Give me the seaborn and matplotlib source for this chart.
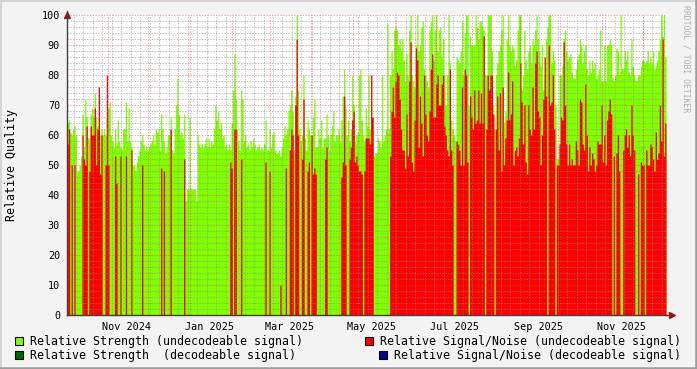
import numpy as np
import pandas as pd
import matplotlib
matplotlib.use("Agg")
import matplotlib.pyplot as plt
import matplotlib.dates as mdates
from matplotlib.patches import Rectangle
from matplotlib.lines import Line2D
import seaborn as sns

# ---------------- data ----------------
start_date = "2024-10-02"

strength_undecodeable = [
    64, 65, 61, 60, 62, 63, 60, 48, 48, 50,
    53, 67, 56, 72, 66, 59, 59, 67, 69, 66,
    74, 66, 63, 66, 60, 62, 60, 62, 60, 66,
    69, 71, 60, 58, 56, 62, 57, 65, 58, 56,
    55, 62, 62, 71, 58, 69, 58, 56, 50, 50,
    48, 51, 53, 55, 58, 60, 57, 55, 56, 55,
    56, 57, 58, 60, 57, 62, 61, 62, 55, 67,
    62, 58, 54, 56, 60, 60, 66, 55, 54, 62,
    70, 79, 67, 60, 61, 59, 67, 38, 42, 42,
    66, 42, 42, 42, 42, 38, 60, 57, 56, 57,
    56, 57, 59, 56, 59, 56, 58, 57, 62, 70,
    65, 68, 62, 64, 59, 60, 56, 57, 55, 57,
    55, 64, 75, 87, 72, 62, 58, 55, 75, 72,
    58, 60, 56, 57, 55, 58, 56, 59, 57, 55,
    56, 57, 55, 56, 55, 57, 65, 55, 55, 62,
    56, 60, 61, 55, 54, 54, 55, 53, 56, 59,
    63, 60, 62, 68, 70, 75, 68, 55, 73, 100,
    75, 62, 58, 60, 80, 59, 55, 65, 62, 60,
    60, 66, 72, 56, 56, 62, 59, 65, 56, 59,
    59, 67, 60, 55, 60, 63, 68, 58, 60, 60,
    62, 58, 65, 73, 82, 69, 60, 65, 58, 62,
    80, 70, 58, 60, 61, 80, 82, 65, 60, 58,
    69, 63, 80, 62, 57, 57, 53, 54, 54, 59,
    58, 56, 80, 58, 60, 62, 97, 62, 80, 88,
    82, 95, 96, 95, 90, 92, 88, 92, 85, 78,
    87, 80, 95, 100, 80, 78, 76, 90, 100, 88,
    90, 96, 98, 82, 80, 78, 76, 95, 98, 100,
    85, 95, 100, 88, 95, 96, 86, 92, 80, 70,
    80, 100, 84, 65, 62, 60, 58, 86, 85, 84,
    88, 98, 80, 94, 100, 100, 70, 93, 90, 90,
    90, 100, 96, 92, 98, 98, 96, 95, 80, 80,
    100, 100, 100, 88, 70, 62, 80, 84, 88, 90,
    95, 100, 64, 68, 92, 100, 90, 88, 90, 89,
    83, 85, 95, 100, 100, 75, 80, 95, 85, 82,
    88, 90, 84, 92, 90, 95, 100, 92, 88, 83,
    90, 75, 80, 92, 96, 100, 100, 84, 88, 85,
    70, 52, 52, 80, 80, 83, 92, 95, 88, 85,
    86, 87, 81, 79, 79, 82, 85, 87, 92, 90,
    84, 88, 90, 82, 80, 85, 81, 85, 82, 84,
    79, 80, 82, 95, 78, 78, 90, 78, 90, 90,
    92, 90, 79, 78, 80, 89, 88, 80, 100, 82,
    82, 88, 85, 88, 81, 80, 92, 83, 80, 78,
    78, 80, 80, 83, 85, 85, 84, 85, 88, 84,
    86, 84, 88, 82, 83, 85, 88, 92, 100, 93,
    100, 86,
]

snr_undecodeable = [
    57, 62, 0, 50, 0, 50, 0, 0, 0, 0,
    0, 60, 52, 50, 63, 0, 48, 63, 60, 60,
    69, 50, 62, 76, 47, 60, 0, 0, 50, 80,
    50, 0, 0, 0, 0, 53, 44, 0, 0, 53,
    0, 0, 0, 53, 0, 0, 0, 55, 0, 0,
    0, 0, 0, 0, 0, 50, 0, 0, 0, 0,
    0, 0, 0, 0, 0, 0, 0, 0, 0, 49,
    0, 48, 0, 0, 0, 0, 62, 0, 0, 0,
    0, 0, 0, 0, 0, 0, 52, 0, 0, 0,
    0, 0, 0, 0, 0, 0, 0, 0, 0, 0,
    0, 0, 0, 0, 0, 0, 0, 0, 0, 0,
    0, 0, 0, 0, 0, 0, 0, 0, 0, 0,
    51, 49, 0, 62, 62, 0, 0, 0, 52, 0,
    0, 0, 0, 0, 0, 0, 0, 0, 0, 0,
    0, 0, 0, 0, 0, 0, 51, 0, 0, 48,
    0, 0, 0, 0, 0, 0, 0, 10, 0, 0,
    0, 49, 0, 0, 55, 62, 60, 0, 70, 92,
    60, 0, 0, 52, 72, 0, 0, 48, 51, 0,
    60, 47, 49, 47, 0, 0, 0, 0, 0, 0,
    52, 56, 0, 0, 0, 0, 0, 0, 0, 0,
    0, 0, 46, 51, 73, 50, 0, 0, 52, 56,
    65, 68, 51, 53, 50, 48, 48, 47, 0, 48,
    59, 59, 59, 57, 80, 66, 0, 0, 0, 0,
    0, 0, 0, 0, 0, 0, 0, 0, 53, 68,
    76, 66, 78, 81, 80, 72, 62, 55, 55, 49,
    67, 53, 78, 91, 51, 48, 65, 89, 85, 56,
    73, 64, 53, 80, 67, 60, 58, 68, 82, 87,
    66, 66, 77, 80, 70, 70, 77, 80, 63, 60,
    55, 53, 82, 55, 50, 0, 0, 58, 57, 55,
    50, 76, 50, 82, 80, 51, 0, 73, 66, 62,
    75, 64, 65, 75, 64, 74, 64, 93, 0, 62,
    80, 75, 80, 80, 67, 0, 62, 73, 55, 74,
    48, 76, 50, 59, 65, 81, 65, 67, 78, 50,
    55, 56, 53, 59, 84, 71, 57, 70, 51, 47,
    70, 62, 60, 76, 62, 84, 88, 68, 66, 50,
    60, 72, 86, 73, 0, 90, 70, 71, 80, 62,
    0, 50, 50, 57, 66, 65, 91, 70, 57, 50,
    57, 50, 52, 50, 50, 58, 55, 50, 72, 71,
    57, 55, 77, 60, 48, 56, 50, 54, 52, 48,
    50, 58, 57, 57, 70, 51, 60, 50, 65, 68,
    72, 67, 0, 53, 0, 54, 60, 48, 0, 0,
    55, 60, 62, 56, 60, 53, 70, 60, 55, 0,
    0, 47, 0, 51, 50, 50, 0, 55, 50, 50,
    57, 56, 52, 48, 61, 52, 54, 70, 58, 92,
    53, 64,
]

tick_labels = ["Nov 2024", "Jan 2025", "Mar 2025", "May 2025",
               "Jul 2025", "Sep 2025", "Nov 2025"]
tick_label_dates = ["2024-11-15", "2025-01-15", "2025-03-15", "2025-05-15",
                    "2025-07-15", "2025-09-15", "2025-11-15"]
y_ticks = [0, 10, 20, 30, 40, 50, 60, 70, 80, 90, 100]
y_label = "Relative Quality"
legend_labels = ["Relative Strength (undecodeable signal)",
                 "Relative Strength  (decodeable signal)",
                 "Relative Signal/Noise (undecodeable signal)",
                 "Relative Signal/Noise (decodeable signal)"]
watermark = "RRDTOOL / TOBI OETIKER"

# ---------------- styling ----------------
C_STRENGTH = "#80FF00"
C_STRENGTH_DEC = "#006600"
C_SNR = "#FF0000"
C_SNR_DEC = "#000099"
BACK = "#F3F3F3"
GRID = (0.55, 0.55, 0.55, 0.55)
MGRID = (0.90, 0.25, 0.25, 0.45)
AXIS = "#404040"
ARROW = "#8B1A1A"

sns.set_style("white")
plt.rcParams["font.family"] = ["DejaVu Sans Mono", "DejaVu Sans"]

W, H = 697, 369
fig = plt.figure(figsize=(W / 100, H / 100), dpi=100, facecolor=BACK)
ax = fig.add_axes([67 / W, 1 - 315 / H, 599 / W, 300 / H])
ax.set_facecolor("white")

n = len(strength_undecodeable)
days = pd.date_range(start_date, periods=n, freq="D")
left_edges = mdates.date2num(days)
x_min, x_max = float(left_edges[0]), float(left_edges[-1] + 1)
df = pd.DataFrame({
    "t": left_edges + 0.5,
    "strength": np.array(strength_undecodeable, dtype=float),
    "snr": np.array(snr_undecodeable, dtype=float),
})

sns.histplot(data=df, x="t", weights="strength", binwidth=1,
             binrange=(x_min, x_max), element="step", fill=True,
             color=C_STRENGTH, alpha=1, linewidth=0, ax=ax, zorder=2)
sns.histplot(data=df, x="t", weights="snr", binwidth=1,
             binrange=(x_min, x_max), element="step", fill=True,
             color=C_SNR, alpha=1, linewidth=0, ax=ax, zorder=3)

ax.set_xlim(x_min, x_max)
ax.set_ylim(0, 100)
ax.set_xlabel("")
ax.set_ylabel("")

dot = (0, (1.4, 1.4))
# horizontal grid
for v in range(2, 100, 2):
    if v % 10:
        ax.axhline(v, color=GRID, lw=0.72, ls=dot, zorder=5)
for v in y_ticks[1:]:
    ax.axhline(v, color=MGRID, lw=0.72, ls=dot, zorder=6)
# vertical grid: weekly (Mondays) and monthly
mondays = pd.date_range(days[0], days[-1] + pd.Timedelta(days=1), freq="W-MON")
for d in mondays:
    ax.axvline(mdates.date2num(d), color=GRID, lw=0.72, ls=dot, zorder=5)
months = pd.date_range(days[0], days[-1] + pd.Timedelta(days=1), freq="MS")
month_pos = mdates.date2num(months)
for m in month_pos:
    ax.axvline(m, color=MGRID, lw=0.72, ls=dot, zorder=6)

# ticks
ax.set_yticks(y_ticks)
ax.set_yticklabels([str(v) for v in y_ticks])
ax.set_yticks([v for v in range(0, 101, 2) if v % 10], minor=True)
ax.tick_params(axis="y", which="major", direction="inout", length=4, width=0.7,
               color=AXIS, pad=3, labelsize=7.3, labelcolor="black")
ax.tick_params(axis="y", which="minor", direction="inout", length=2, width=0.6,
               color=GRID)
ax.set_xticks(month_pos)
ax.set_xticklabels([""] * len(month_pos))
ax.set_xticks(mdates.date2num(pd.to_datetime(tick_label_dates)), minor=True)
ax.set_xticklabels(tick_labels, minor=True)
ax.tick_params(axis="x", which="major", direction="inout", length=4, width=0.7,
               color=(0.85, 0.3, 0.3))
ax.tick_params(axis="x", which="minor", length=0, pad=5, labelsize=7.3,
               labelcolor="black")

for s in ["top", "right"]:
    ax.spines[s].set_visible(False)
for s in ["left", "bottom"]:
    ax.spines[s].set_color(AXIS)
    ax.spines[s].set_linewidth(1.0)
    ax.spines[s].set_zorder(8)

# arrows at the ends of axes
ax.plot([0], [1.0], marker="^", ms=5, color=ARROW, transform=ax.transAxes,
        clip_on=False, zorder=9)
ax.plot([0, 0], [1.0, 1.0 + 4 / 300], color=ARROW, lw=1, transform=ax.transAxes,
        clip_on=False, zorder=9)
ax.plot([1 + 6 / 599], [0], marker=">", ms=5, color=ARROW, transform=ax.transAxes,
        clip_on=False, zorder=9)
ax.plot([1, 1 + 6 / 599], [0, 0], color=ARROW, lw=1, transform=ax.transAxes,
        clip_on=False, zorder=9)

# y label
fig.text(12 / W, 1 - 165 / H, y_label, rotation=90, ha="center", va="center",
         fontsize=8.4, color="black")

# watermark
fig.text(686 / W, 1 - 5 / H, watermark, rotation=270, ha="center", va="top",
         fontsize=5.9, color="#B0B0B0")

# legend
def legend_item(xbox, ytop, color, label):
    fig.patches.append(Rectangle((xbox / W, 1 - (ytop + 8) / H), 8 / W, 8 / H,
                                 transform=fig.transFigure, facecolor=color,
                                 edgecolor="black", linewidth=0.8))
    fig.text((xbox + 15) / W, 1 - (ytop + 4) / H, label, ha="left", va="center",
             fontsize=8.38, color="black")

legend_item(15, 337, C_STRENGTH, legend_labels[0])
legend_item(15, 351, C_STRENGTH_DEC, legend_labels[1])
legend_item(365, 337, C_SNR, legend_labels[2])
legend_item(379, 351, C_SNR_DEC, legend_labels[3])

# 3D frame
fig.lines.append(Line2D([0, 1], [1 - 0.5 / H, 1 - 0.5 / H], transform=fig.transFigure,
                        color="#D4D4D4", lw=1.4))
fig.lines.append(Line2D([0.5 / W, 0.5 / W], [0, 1], transform=fig.transFigure,
                        color="#D4D4D4", lw=1.4))
fig.lines.append(Line2D([0, 1], [1.2 / H, 1.2 / H], transform=fig.transFigure,
                        color="#9C9C9C", lw=1.8))
fig.lines.append(Line2D([1 - 1.2 / W, 1 - 1.2 / W], [0, 1], transform=fig.transFigure,
                        color="#9C9C9C", lw=1.8))

fig.savefig("out.png", dpi=100, facecolor=BACK)
